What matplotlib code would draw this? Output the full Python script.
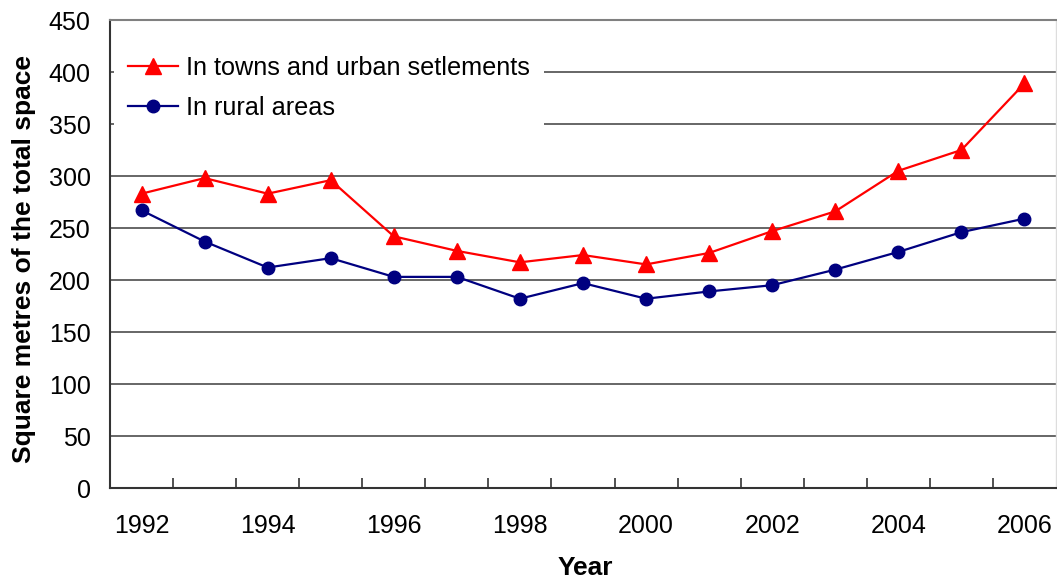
import matplotlib
matplotlib.use("Agg")
import matplotlib.pyplot as plt
import numpy as np

years = ["1992", "1993", "1994", "1995", "1996", "1997", "1998", "1999",
         "2000", "2001", "2002", "2003", "2004", "2005", "2006"]
urban = [283, 298, 283, 296, 242, 228, 217, 224, 215, 226, 247, 266, 305, 325, 389]
rural = [267, 237, 212, 221, 203, 203, 182, 197, 182, 189, 195, 210, 227, 246, 259]
urban_label = "In towns and urban setlements"
rural_label = "In rural areas"
y_ticks = [0, 50, 100, 150, 200, 250, 300, 350, 400, 450]

plt.rcParams["font.family"] = ["Liberation Sans", "DejaVu Sans"]

fig = plt.figure(figsize=(10.57, 5.81), dpi=100)
ax = fig.add_axes([110 / 1057, 1 - 488 / 581, 946 / 1057, 468 / 581])

x = np.arange(len(years))
ax.plot(x, urban, color="#ff0000", lw=1.6, marker="^", ms=11,
        label=urban_label, zorder=3, clip_on=False)
ax.plot(x, rural, color="#000080", lw=1.6, marker="o", ms=9,
        label=rural_label, zorder=3, clip_on=False)

ax.set_xlim(-0.5, len(years) - 0.5)
ax.set_ylim(0, 450)
ax.set_yticks(y_ticks)
ax.set_yticklabels([str(v) for v in y_ticks], fontsize=18)
ax.tick_params(axis="y", length=0, pad=14)
ax.set_xticks(x[::2])
ax.set_xticklabels(years[::2], fontsize=18)
ax.set_xticks(np.arange(len(years) - 1) + 0.5, minor=True)
ax.tick_params(axis="x", which="major", length=0, pad=19)
ax.tick_params(axis="x", which="minor", direction="in", length=7,
               width=1.2, color="#333333")

ax.yaxis.grid(True, color="#5a5a5a", lw=1.3)
ax.set_axisbelow(True)

for side in ("left", "bottom"):
    ax.spines[side].set_color("#333333")
    ax.spines[side].set_linewidth(1.5)
ax.spines["top"].set_color("#808080")
ax.spines["top"].set_linewidth(1.5)
ax.spines["right"].set_color("#dddddd")
ax.spines["right"].set_linewidth(1.0)

ax.set_ylabel("Square metres of the total space", fontsize=19,
              fontweight="bold", va="center")
ax.yaxis.set_label_coords(-0.091, 0.489)
ax.set_xlabel("Year", fontsize=19, fontweight="bold", va="center")
ax.xaxis.set_label_coords(0.502, -0.171)

leg = ax.legend(loc="upper left", bbox_to_anchor=(0.004, 0.953), fontsize=18.2,
                frameon=True, fancybox=False, edgecolor="none",
                facecolor="white", framealpha=1.0, handlelength=2.0,
                handletextpad=0.3, labelspacing=0.62, borderpad=0.55,
                borderaxespad=0.0)
leg.set_zorder(2.5)

fig.savefig("out.png", dpi=100)
